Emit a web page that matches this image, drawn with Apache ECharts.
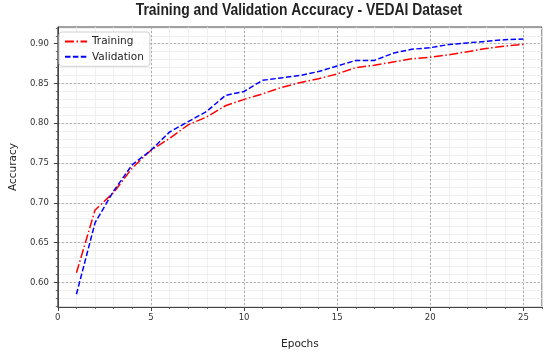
<!DOCTYPE html>
<html>
<head>
<meta charset="utf-8">
<script src="https://cdn.jsdelivr.net/npm/echarts@6/dist/echarts.min.js"></script>
<style>html,body{margin:0;padding:0;background:#fff}#c{width:550px;height:355px}</style>
</head>
<body>
<div id="c"></div>
<script>
const titleText = 'Training and Validation Accuracy - VEDAI Dataset';
const epochs = [1,2,3,4,5,6,7,8,9,10,11,12,13,14,15,16,17,18,19,20,21,22,23,24,25];
const trainAcc = [0.612,0.691,0.713,0.744,0.766,0.781,0.798,0.808,0.822,0.830,0.837,0.845,0.851,0.856,0.862,0.870,0.873,0.877,0.881,0.883,0.886,0.890,0.894,0.897,0.899];
const valAcc = [0.585,0.675,0.715,0.748,0.766,0.789,0.802,0.815,0.835,0.840,0.854,0.857,0.860,0.865,0.872,0.879,0.879,0.888,0.893,0.895,0.899,0.901,0.903,0.905,0.906];
const xMajorTicks = [0,5,10,15,20,25];
const yMajorTicks = [0.60,0.65,0.70,0.75,0.80,0.85,0.90];
const xMinorTicks = [0,1,2,3,4,5,6,7,8,9,10,11,12,13,14,15,16,17,18,19,20,21,22,23,24,25,26];
const yMinorTicks = [0.57,0.58,0.59,0.60,0.61,0.62,0.63,0.64,0.65,0.66,0.67,0.68,0.69,0.70,0.71,0.72,0.73,0.74,0.75,0.76,0.77,0.78,0.79,0.80,0.81,0.82,0.83,0.84,0.85,0.86,0.87,0.88,0.89,0.90,0.91,0.92];

const X_MIN = 0, X_MAX = 26, Y_MIN = 0.569, Y_MAX = 0.921;
const tickFont = {fontFamily:'DejaVu Sans', fontSize:8.5, color:'#333'};
const chart = echarts.init(document.getElementById('c'), null, {renderer:'canvas'});
chart.setOption({
  backgroundColor:'#fff',
  animation:false,
  graphic:[{
    type:'text', x:299, y:3, scaleX:0.866, scaleY:1, z:10,
    style:{text:titleText, font:'bold 16px "Liberation Sans", Arial, sans-serif', fill:'#222',
           align:'center', textAlign:'center', verticalAlign:'top', textVerticalAlign:'top'}
  }],
  legend:{
    orient:'vertical', left:59, top:32,
    padding:[4,6,4,5], itemGap:4.3, itemWidth:22, itemHeight:10,
    backgroundColor:'rgba(255,255,255,0.85)', borderColor:'#d0d0d0', borderWidth:1, borderRadius:3,
    itemStyle:{opacity:0, borderWidth:0},
    textStyle:{fontFamily:'DejaVu Sans', fontSize:10.5, color:'#222'},
    data:['Training','Validation']
  },
  grid:{left:55, right:8, top:27, bottom:44, show:true, borderColor:'#444', borderWidth:1, backgroundColor:'transparent'},
  xAxis:[
    {type:'value', position:'bottom', min:X_MIN, max:X_MAX,
     axisLine:{show:false}, axisLabel:{show:false},
     axisTick:{show:true, length:2, customValues:xMinorTicks, lineStyle:{color:'#444', width:0.8}},
     splitLine:{show:true, lineStyle:{color:'#ececec', width:0.8}}},
    {type:'value', position:'bottom', min:X_MIN, max:X_MAX,
     name:'Epochs', nameLocation:'middle', nameGap:32,
     nameTextStyle:{fontFamily:'DejaVu Sans', fontSize:10.5, color:'#222'},
     axisLine:{show:true, lineStyle:{color:'#444'}},
     axisLabel:Object.assign({customValues:xMajorTicks, margin:6}, tickFont),
     axisTick:{show:true, length:4, customValues:xMajorTicks, lineStyle:{color:'#444'}},
     splitLine:{show:true, lineStyle:{color:'#9a9a9a', width:0.8, type:[2,2]}}}
  ],
  yAxis:[
    {type:'value', position:'left', min:Y_MIN, max:Y_MAX,
     axisLine:{show:false}, axisLabel:{show:false},
     axisTick:{show:true, length:2, customValues:yMinorTicks, lineStyle:{color:'#444', width:0.8}},
     splitLine:{show:true, lineStyle:{color:'#ececec', width:0.8}}},
    {type:'value', position:'left', min:Y_MIN, max:Y_MAX,
     name:'Accuracy', nameLocation:'middle', nameGap:38, nameRotate:90,
     nameTextStyle:{fontFamily:'DejaVu Sans', fontSize:10.5, color:'#222'},
     axisLine:{show:true, lineStyle:{color:'#444'}},
     axisLabel:Object.assign({customValues:yMajorTicks, margin:9, formatter:v=>v.toFixed(2)}, tickFont),
     axisTick:{show:true, length:4, customValues:yMajorTicks, lineStyle:{color:'#444'}},
     splitLine:{show:true, lineStyle:{color:'#9a9a9a', width:0.8, type:[2,2]}}}
  ],
  series:[
    {name:'Training', type:'line', xAxisIndex:1, yAxisIndex:1, symbol:'none',
     data:epochs.map((e,i)=>[e, trainAcc[i]]),
     lineStyle:{color:'#ff0000', width:1.5, type:[9,2.5,1.5,2.5]}, itemStyle:{color:'#ff0000'}},
    {name:'Validation', type:'line', xAxisIndex:1, yAxisIndex:1, symbol:'none',
     data:epochs.map((e,i)=>[e, valAcc[i]]),
     lineStyle:{color:'#0000ff', width:1.5, type:[5.5,2.4]}, itemStyle:{color:'#0000ff'}}
  ]
});
</script>
</body>
</html>
